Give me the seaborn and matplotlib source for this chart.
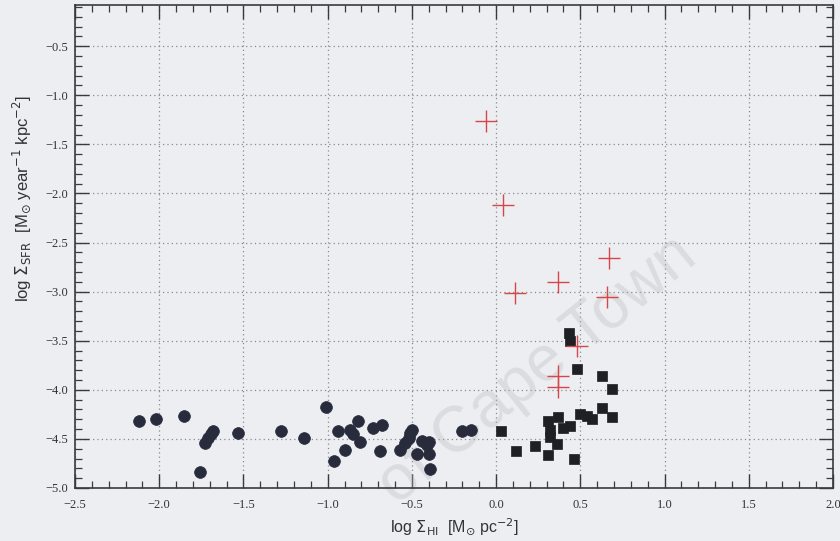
import matplotlib
matplotlib.use("Agg")
import matplotlib.pyplot as plt
from matplotlib.ticker import MultipleLocator
import seaborn as sns
import pandas as pd

# HI-dominated regions (filled circles)
circle_x = [-2.12, -2.02, -1.85, -1.76, -1.73, -1.71, -1.69, -1.68, -1.53, -1.28,
            -1.14, -1.01, -0.96, -0.94, -0.90, -0.87, -0.85, -0.82, -0.81, -0.73,
            -0.68, -0.69, -0.57, -0.54, -0.52, -0.51, -0.50, -0.47, -0.44, -0.41,
            -0.40, -0.40, -0.39, -0.20, -0.15]
circle_y = [-4.32, -4.30, -4.27, -4.84, -4.54, -4.49, -4.45, -4.42, -4.44, -4.42,
            -4.49, -4.18, -4.72, -4.42, -4.61, -4.41, -4.45, -4.32, -4.53, -4.39,
            -4.36, -4.62, -4.61, -4.54, -4.49, -4.44, -4.41, -4.65, -4.52, -4.56,
            -4.53, -4.65, -4.81, -4.42, -4.41]

# Inner disc regions (filled squares)
square_x = [0.43, 0.44, 0.48, 0.63, 0.69, 0.63, 0.69, 0.50, 0.54, 0.57,
            0.37, 0.31, 0.32, 0.40, 0.44, 0.32, 0.36, 0.31, 0.46, 0.23,
            0.12, 0.03]
square_y = [-3.42, -3.50, -3.79, -3.86, -3.99, -4.19, -4.28, -4.25, -4.27, -4.30,
            -4.28, -4.32, -4.41, -4.39, -4.37, -4.48, -4.55, -4.66, -4.70, -4.57,
            -4.62, -4.42]

# Comparison sample (red crosses)
cross_x = [-0.06, 0.04, 0.11, 0.37, 0.67, 0.66, 0.48, 0.37, 0.37]
cross_y = [-1.26, -2.12, -3.01, -2.90, -2.66, -3.05, -3.55, -3.86, -3.97]

x_ticks = [-2.5, -2.0, -1.5, -1.0, -0.5, 0.0, 0.5, 1.0, 1.5, 2.0]
y_ticks = [-5.0, -4.5, -4.0, -3.5, -3.0, -2.5, -2.0, -1.5, -1.0, -0.5]

circles = pd.DataFrame({"x": circle_x, "y": circle_y})
squares = pd.DataFrame({"x": square_x, "y": square_y})
crosses = pd.DataFrame({"x": cross_x, "y": cross_y})

sns.set_theme(style="ticks")
plt.rcParams["font.family"] = ["Liberation Serif", "DejaVu Serif"]
plt.rcParams["mathtext.fontset"] = "dejavusans"

paper = "#eceef1"
fig = plt.figure(figsize=(8.4, 5.41), dpi=100, facecolor=paper)
ax = fig.add_axes([75 / 840, 1 - 488 / 541, 758 / 840, 483 / 541])
ax.set_facecolor(paper)

sns.scatterplot(data=circles, x="x", y="y", ax=ax, marker="o", s=72,
                color="#272b3c", edgecolor="#272b3c", linewidth=0.5, zorder=3)
sns.scatterplot(data=squares, x="x", y="y", ax=ax, marker="s", s=52,
                color="#1f2024", edgecolor="#1f2024", linewidth=0.5, zorder=3)
sns.scatterplot(data=crosses, x="x", y="y", ax=ax, marker="+", s=230,
                color="#d9464a", linewidth=1.0, zorder=4)

ax.set_xlim(-2.5, 2.0)
ax.set_ylim(-5.0, -0.08)
ax.set_xticks(x_ticks)
ax.set_yticks(y_ticks)
ax.set_xticklabels([f"{v:.1f}".replace("-", "\u2212") for v in x_ticks])
ax.set_yticklabels([f"{v:.1f}".replace("-", "\u2212") for v in y_ticks])
ax.xaxis.set_minor_locator(MultipleLocator(0.1))
ax.yaxis.set_minor_locator(MultipleLocator(0.1))

ax.tick_params(which="both", direction="in", top=True, right=True,
               colors="#3a3a3a", labelcolor="#333333", labelsize=9, pad=5)
ax.tick_params(axis="x", which="major", pad=8)
ax.tick_params(which="major", length=10, width=1.0)
ax.tick_params(which="minor", length=5, width=0.9)
for side in ax.spines.values():
    side.set_color("#3a3a3a")
    side.set_linewidth(1.2)

ax.grid(True, which="major", linestyle=(0, (1, 2.5)), color="#8a8a8a",
        linewidth=0.9)
ax.set_axisbelow(True)

ax.set_xlabel(r"log $\Sigma_{\rm HI}$  [M$_{\odot}$ pc$^{-2}$]",
              fontsize=11.5, color="#333333", family="Liberation Sans")
ax.set_ylabel(r"log $\Sigma_{\rm SFR}$  [M$_{\odot}$ year$^{-1}$ kpc$^{-2}$]",
              fontsize=12, color="#333333", family="Liberation Sans")
ax.xaxis.set_label_coords(0.5, -0.06)
ax.yaxis.set_label_coords(-0.055, 0.6)

# faint diagonal ownership stamp, drawn beneath the markers
ax.text(0.64, 0.315, "of Cape Town", transform=fig.transFigure,
        fontsize=46, rotation=39, color="#b9bac0", alpha=0.35,
        ha="center", va="center", family="Liberation Sans",
        zorder=2, clip_on=False)

fig.savefig("out.png", dpi=100, facecolor=paper)
